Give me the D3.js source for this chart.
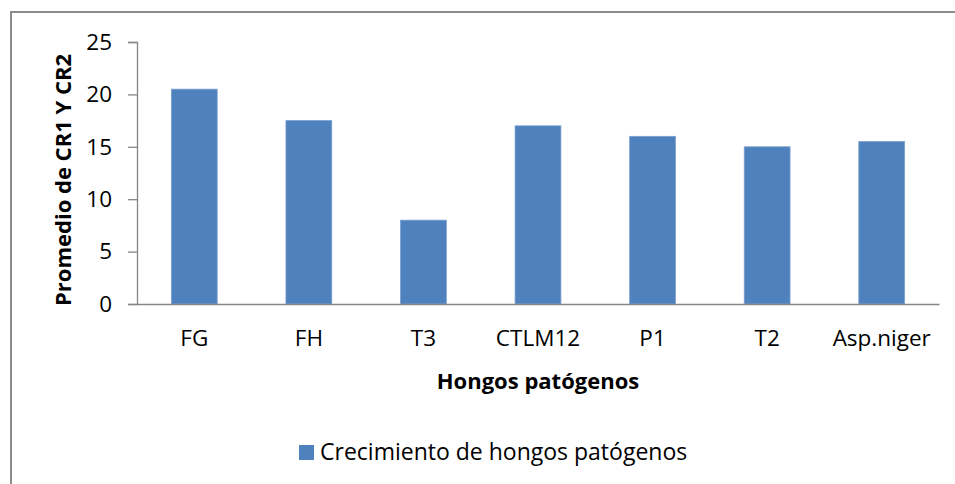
<!DOCTYPE html>
<html>
<head>
<meta charset="utf-8">
<script src="https://cdn.jsdelivr.net/npm/d3@7"></script>
<style>
  body { margin: 0; background: #fff; }
  svg { display: block; font-family: "Open Sans", sans-serif; }
</style>
</head>
<body>
<div class="chart"></div>
<script>
// datos
var categorias = ["FG", "FH", "T3", "CTLM12", "P1", "T2", "Asp.niger"];
var valores = [20.5, 17.5, 8, 17, 16, 15, 15.5];
var ticksY = [0, 5, 10, 15, 20, 25];
var serie = "Crecimiento de hongos patógenos";

var width = 955;
var height = 484;

var svg = d3.select("div.chart")
    .append("svg")
    .attr("width", width)
    .attr("height", height);

// marco del area del grafico (sale por la derecha y por abajo)
svg.append("rect")
    .attr("x", 11)
    .attr("y", 12)
    .attr("width", 1000)
    .attr("height", 600)
    .attr("fill", "white")
    .attr("stroke", "#8c8c8c")
    .attr("stroke-width", 2);

var margen = {left: 137, right: 939, top: 42, bottom: 304};

var x = d3.scaleBand()
    .domain(categorias)
    .range([margen.left, margen.right])
    .paddingInner(0.6)
    .paddingOuter(0.3);

var y = d3.scaleLinear()
    .domain([0, 25])
    .range([margen.bottom, margen.top]);

var datos = categorias.map((c, i) => ({cat: c, val: valores[i]}));

// barras
svg.selectAll("rect.bar")
    .data(datos)
    .enter()
    .append("rect")
    .attr("class", "bar")
    .attr("x", d => x(d.cat))
    .attr("y", d => y(d.val))
    .attr("width", x.bandwidth())
    .attr("height", d => y(0) - y(d.val))
    .attr("fill", "#4f81bd")
    .attr("stroke", "#7b9fd0")
    .attr("stroke-width", 0.8);

// eje Y
var ejeY = svg.append("g")
    .attr("transform", `translate(${margen.left},0)`)
    .call(d3.axisLeft(y).tickValues(ticksY).tickSize(9).tickPadding(16));
ejeY.select(".domain").attr("stroke", "#868686").attr("stroke-width", 1.3);
ejeY.selectAll(".tick line").attr("stroke", "#868686").attr("stroke-width", 1.3);
ejeY.selectAll(".tick text")
    .attr("font-size", "22.5px")
    .attr("fill", "#000")
    .attr("font-family", "Open Sans");

// eje X (sin marcas)
var ejeX = svg.append("g")
    .attr("transform", `translate(0,${margen.bottom})`)
    .call(d3.axisBottom(x).tickSize(0).tickPadding(26));
ejeX.select(".domain").attr("stroke", "#868686").attr("stroke-width", 1.3);
ejeX.selectAll(".tick text")
    .attr("font-size", "22.5px")
    .attr("fill", "#000")
    .attr("font-family", "Open Sans");

// titulos de ejes
svg.append("text")
    .attr("transform", "translate(71,180) rotate(-90)")
    .attr("text-anchor", "middle")
    .attr("font-size", "22px")
    .attr("font-weight", "bold")
    .text("Promedio de CR1 Y CR2");

svg.append("text")
    .attr("x", (margen.left + margen.right) / 2)
    .attr("y", 389)
    .attr("text-anchor", "middle")
    .attr("font-size", "22px")
    .attr("font-weight", "bold")
    .text("Hongos patógenos");

// leyenda
var leyenda = svg.append("g").attr("transform", "translate(299,445)");
leyenda.append("rect")
    .attr("width", 15)
    .attr("height", 15)
    .attr("fill", "#4f81bd");
leyenda.append("text")
    .attr("x", 21)
    .attr("y", 15)
    .attr("font-size", "23px")
    .text(serie);
</script>
</body>
</html>
